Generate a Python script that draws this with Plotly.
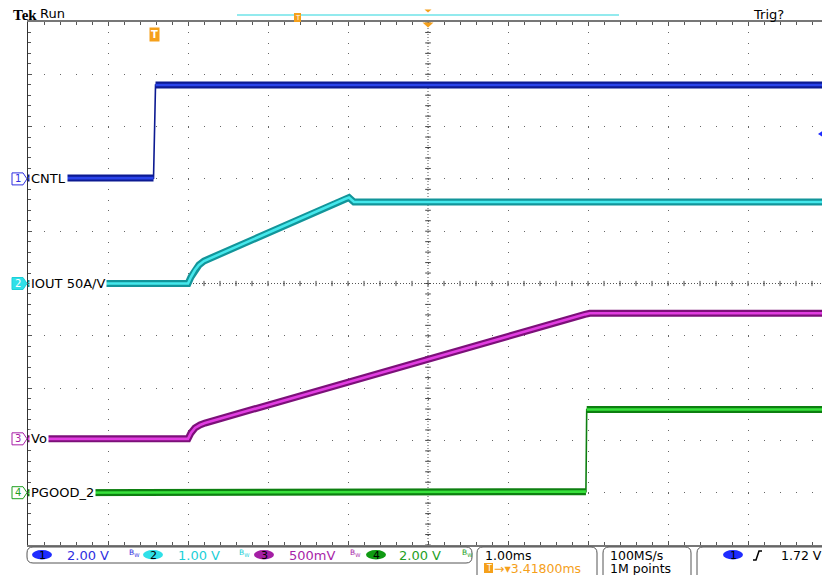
import plotly.graph_objects as go
import numpy as np

# ---------------- acquisition settings ----------------
TIME_PER_DIV_MS = 1.0          # 1.00 ms/div
CENTER_TIME_MS = 3.418         # trigger -> centre delay
CH_NAMES = ["CNTL", "IOUT 50A/V", "Vo", "PGOOD_2"]
CH_SCALE = [2.0, 1.0, 0.5, 2.0]        # V/div
CH_POS = [2.0, 0.0, -2.97, -4.0]       # div
CH_SCALE_TXT = ["2.00 V", "1.00 V", "500mV", "2.00 V"]
TRIG_LEVEL_V = 1.72

# ---------------- waveforms (time in ms, value in V) ----------------
ch1_t = [-1.60, -0.013, 0.012, 8.40]
ch1_v = [0.03, 0.03, 3.59, 3.59]

ch2_t = [-1.60, 0.418, 0.455, 0.505, 0.555, 0.618, 2.38, 2.43, 2.493, 8.40]
ch2_v = [0.0, 0.0, 0.124, 0.258, 0.354, 0.430, 1.616, 1.644, 1.558, 1.558]

ch3_t = [-1.60, 0.418, 0.455, 0.505, 0.568, 0.631, 5.38, 5.44, 8.40]
ch3_v = [0.0, 0.0, 0.056, 0.104, 0.132, 0.151, 1.19, 1.20, 1.20]

ch4_t = [-1.60, 5.392, 5.402, 8.40]
ch4_v = [0.0, 0.04, 3.18, 3.18]

CH_T = [ch1_t, ch2_t, ch3_t, ch4_t]
CH_V = [ch1_v, ch2_v, ch3_v, ch4_v]

OUTER = ["#0c1a92", "#12959a", "#7c1079", "#0d7f10"]
INNER = ["#2a44ea", "#45e8ec", "#e23ee2", "#38e23c"]
TXT = ["#2f2fe0", "#1ccfd8", "#a81fa8", "#1f9f1f"]
BADGE = ["#1f2cff", "#2fe0e8", "#a41ea4", "#0f9a12"]
ORANGE = "#f5a01a"

# ---------------- geometry (screen pixels) ----------------
W, H = 822, 575
L, R_EDGE, TOP, BOT = 28, 822, 22, 545
PX_PER_DIV_X = 80.0
PX_PER_DIV_Y = (BOT - TOP) / 10.0
x_left = CENTER_TIME_MS - 5 * TIME_PER_DIV_MS
x_right = CENTER_TIME_MS + (R_EDGE - 428) / PX_PER_DIV_X * TIME_PER_DIV_MS


def px(xp):
    return (xp - L) / (R_EDGE - L)


def py(yp):
    return (BOT - yp) / (BOT - TOP)


fig = go.Figure()

# traces: thick dark band + bright core, thin line through fast edges
for i in range(4):
    t = np.array(CH_T[i], dtype=float)
    d = np.array(CH_V[i], dtype=float) / CH_SCALE[i] + CH_POS[i]
    xs, ys = [t[0]], [d[0]]
    for k in range(1, len(t)):
        dxp = (t[k] - t[k - 1]) / TIME_PER_DIV_MS * PX_PER_DIV_X
        dyp = abs(d[k] - d[k - 1]) * PX_PER_DIV_Y
        if dxp < 3 and dyp > 15:
            xs.append(None)
            ys.append(None)
        xs.append(t[k])
        ys.append(d[k])
    fig.add_trace(go.Scatter(x=t, y=d, mode="lines", line=dict(color=OUTER[i], width=1.6),
                             hoverinfo="skip", showlegend=False))
    fig.add_trace(go.Scatter(x=xs, y=ys, mode="lines", line=dict(color=OUTER[i], width=7),
                             hoverinfo="skip", showlegend=False, connectgaps=False))
    fig.add_trace(go.Scatter(x=xs, y=ys, mode="lines", line=dict(color=INNER[i], width=2.6),
                             hoverinfo="skip", showlegend=False, connectgaps=False))

shapes = []
annots = []

# centre crosshair
shapes.append(dict(type="line", xref="x", yref="y", x0=x_left, x1=x_right, y0=0, y1=0,
                   line=dict(color="#555", width=1, dash="1px,2px"), layer="below"))
shapes.append(dict(type="line", xref="x", yref="y", x0=CENTER_TIME_MS, x1=CENTER_TIME_MS,
                   y0=-5, y1=5, line=dict(color="#555", width=1, dash="1px,2px"), layer="below"))
for k in np.arange(-25, 26):
    tx = CENTER_TIME_MS + k * 0.2
    if x_left <= tx <= x_right:
        shapes.append(dict(type="line", xref="x", yref="y", x0=tx, x1=tx, y0=-0.05, y1=0.05,
                           line=dict(color="#444", width=1), layer="below"))
    ty = k * 0.2
    shapes.append(dict(type="line", xref="x", yref="y", x0=CENTER_TIME_MS - 0.035,
                       x1=CENTER_TIME_MS + 0.035, y0=ty, y1=ty,
                       line=dict(color="#444", width=1), layer="below"))


def ann(xp, yp, text, color="black", size=13, xanchor="left", family="DejaVu Sans", **kw):
    d = dict(xref="paper", yref="paper", x=px(xp), y=py(yp), text=text, showarrow=False,
             xanchor=xanchor, yanchor="middle", font=dict(color=color, size=size, family=family))
    d.update(kw)
    annots.append(d)


# channel labels on the left
for i in range(4):
    yc = CH_POS[i]
    h = 6 / PX_PER_DIV_Y
    path = (f"M{px(12)},{yc + h} L{px(23)},{yc + h} L{px(27)},{yc} "
            f"L{px(23)},{yc - h} L{px(12)},{yc - h} Z")
    fill = BADGE[i] if i == 1 else "white"
    shapes.append(dict(type="path", xref="paper", yref="y", path=path,
                       fillcolor=fill, line=dict(color=TXT[i], width=1), layer="above"))
    annots.append(dict(xref="paper", yref="y", x=px(18), y=yc, text=str(i + 1), showarrow=False,
                       xanchor="center", yanchor="middle",
                       font=dict(color="white" if i == 1 else TXT[i], size=10, family="DejaVu Sans")))
    annots.append(dict(xref="paper", yref="y", x=px(28.5), y=yc, text=CH_NAMES[i], showarrow=False,
                       xanchor="left", yanchor="middle", bgcolor="white", borderpad=1,
                       font=dict(color="black", size=13, family="DejaVu Sans")))

# trigger position marker "T"
annots.append(dict(xref="x", yref="paper", x=0.0, y=py(34), text="<b>T</b>", showarrow=False,
                   xanchor="center", yanchor="middle", bgcolor=ORANGE, borderpad=1,
                   font=dict(color="white", size=10, family="DejaVu Sans")))

# trigger level marker on right edge
tl = CH_POS[0] + TRIG_LEVEL_V / CH_SCALE[0]
shapes.append(dict(type="path", xref="paper", yref="y",
                   path=f"M{px(818)},{tl} L{px(822)},{tl + 0.05} L{px(822)},{tl - 0.05} Z",
                   fillcolor=BADGE[0], line=dict(width=0)))

# header
ann(11, 15, "<b>Tek</b>", size=15, family="Liberation Serif")
ann(38, 14, "Run", size=13)
ann(751, 15, "Trig?", size=13)
shapes.append(dict(type="line", xref="paper", yref="paper", x0=px(237), x1=px(619),
                   y0=py(15), y1=py(15), line=dict(color="#6fe3e8", width=1.5)))
shapes.append(dict(type="rect", xref="paper", yref="paper", x0=px(294), x1=px(301),
                   y0=py(22), y1=py(13), fillcolor=ORANGE, line=dict(width=0)))
ann(297.5, 17.5, "T", color="white", size=7, xanchor="center")
shapes.append(dict(type="path", xref="paper", yref="paper",
                   path=f"M{px(424.5)},{py(9.5)} L{px(431.5)},{py(9.5)} L{px(428)},{py(12.5)} Z",
                   fillcolor=ORANGE, line=dict(width=0)))
shapes.append(dict(type="path", xref="paper", yref="paper",
                   path=f"M{px(422.5)},{py(22.5)} L{px(433.5)},{py(22.5)} L{px(428)},{py(27.5)} Z",
                   fillcolor=ORANGE, line=dict(width=0)))


def rrect(x0, y0, x1, y1, r):
    return (f"M{px(x0 + r)},{py(y0)} L{px(x1 - r)},{py(y0)} Q{px(x1)},{py(y0)} {px(x1)},{py(y0 + r)} "
            f"L{px(x1)},{py(y1 - r)} Q{px(x1)},{py(y1)} {px(x1 - r)},{py(y1)} "
            f"L{px(x0 + r)},{py(y1)} Q{px(x0)},{py(y1)} {px(x0)},{py(y1 - r)} "
            f"L{px(x0)},{py(y0 + r)} Q{px(x0)},{py(y0)} {px(x0 + r)},{py(y0)} Z")


for (a, b, c, d) in [(27, 547, 472, 563), (477, 547, 597, 585), (603, 547, 691, 585), (697, 547, 840, 585)]:
    shapes.append(dict(type="path", xref="paper", yref="paper", path=rrect(a, b, c, d, 6),
                       line=dict(color="#555", width=1), fillcolor="rgba(0,0,0,0)"))

badge_x = [32, 143, 254, 366]
val_x = [66, 177, 288, 398]
bw_x = [127, 237, 348, 460]
for i in range(4):
    shapes.append(dict(type="circle", xref="paper", yref="paper", x0=px(badge_x[i]), x1=px(badge_x[i] + 20),
                       y0=py(559.5), y1=py(550), fillcolor=BADGE[i], line=dict(width=0)))
    ann(badge_x[i] + 10, 555, str(i + 1), color="black", size=11, xanchor="center")
    ann(val_x[i] - 1, 555, CH_SCALE_TXT[i], color=TXT[i], size=13)
    ann(bw_x[i], 553, "B<sub>W</sub>", color=TXT[i], size=7.5)

ann(483, 555, "1.00ms", size=12.5)
shapes.append(dict(type="rect", xref="paper", yref="paper", x0=px(484), x1=px(493),
                   y0=py(573), y1=py(563), fillcolor=ORANGE, line=dict(width=0)))
ann(488.5, 568, "T", color="white", size=8, xanchor="center")
ann(492, 568.5, "→▾3.41800ms", color=ORANGE, size=12.5)
ann(608, 555, "100MS/s", size=12.5)
ann(608, 568.5, "1M points", size=12.5)
shapes.append(dict(type="circle", xref="paper", yref="paper", x0=px(723), x1=px(743),
                   y0=py(559.5), y1=py(550), fillcolor=BADGE[0], line=dict(width=0)))
ann(733, 555, "1", color="black", size=11, xanchor="center")
shapes.append(dict(type="path", xref="paper", yref="paper",
                   path=f"M{px(753)},{py(560)} L{px(756)},{py(560)} L{px(759)},{py(551)} L{px(762)},{py(551)}",
                   line=dict(color="black", width=1.5)))
ann(779, 555, "1.72 V", size=12.5)

fig.update_layout(
    width=W, height=H,
    margin=dict(l=L, r=W - R_EDGE, t=TOP, b=H - BOT),
    paper_bgcolor="white", plot_bgcolor="white",
    shapes=shapes, annotations=annots, showlegend=False,
    xaxis=dict(range=[x_left, x_right], tick0=CENTER_TIME_MS, dtick=TIME_PER_DIV_MS,
               showgrid=True, gridcolor="#666", gridwidth=1, griddash="1px,9.46px",
               showticklabels=False, ticks="inside", ticklen=4, tickcolor="#555",
               showline=True, linecolor="#777", linewidth=1.5, mirror="ticks", zeroline=False,
               minor=dict(dtick=0.2 * TIME_PER_DIV_MS, tick0=CENTER_TIME_MS, ticks="inside",
                          ticklen=3, tickcolor="#555", showgrid=False), fixedrange=True),
    yaxis=dict(range=[-5, 5], tick0=0, dtick=1,
               showgrid=True, gridcolor="#666", gridwidth=1, griddash="1px,15px",
               showticklabels=False, ticks="inside", ticklen=4, tickcolor="#555",
               showline=True, linecolor="#333", linewidth=1, zeroline=False,
               minor=dict(dtick=0.2, tick0=0, ticks="inside", ticklen=3, tickcolor="#555",
                          showgrid=False), fixedrange=True),
)

fig.write_html("out.html", config={"displayModeBar": False},
               post_script="document.body.style.margin='0';document.body.style.padding='0';")
